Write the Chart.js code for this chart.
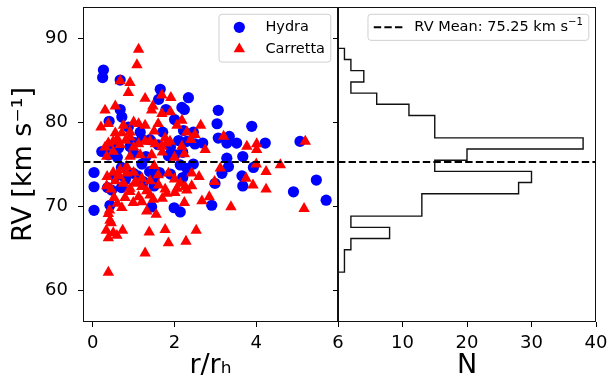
<!DOCTYPE html>
<html>
<head>
<meta charset="utf-8">
<script src="https://cdn.jsdelivr.net/npm/chart.js@4.4.0/dist/chart.umd.min.js"></script>
<style>
  html, body { margin: 0; padding: 0; background: #fff; }
  #wrap { position: relative; width: 610px; height: 390px; }
  #scatterChart { position: absolute; left: 0; top: 0; }
  #histChart { position: absolute; left: 320px; top: 0; }
</style>
</head>
<body>
<div id="wrap">
  <canvas id="scatterChart" width="352" height="390"></canvas>
  <canvas id="histChart" width="290" height="390"></canvas>
</div>
<script>
// Hydra members: r/r_h and radial velocity (km/s)
const hydraR = [0.26, 0.24, 0.67, 1.65, 1.61, 2.34, 1.79, 2.18, 2.24, 0.67, 0.71, 3.07, 3.04, 3.89, 0.87, 1.16, 1.71, 2.22, 2.46, 3.07,
  3.34, 3.52, 4.22, 5.07, 0.22, 0.38, 1.40, 2.30, 2.50, 2.69, 3.28, 3.28, 3.67, 1.85, 2.01, 0.91, 0.63,
  0.03, 0.03, 0.03, 0.42, 0.36, 0.99, 1.24, 1.39, 1.63, 1.44, 1.99, 2.14, 2.91, 2.14, 2.30, 2.46, 2.99, 3.16, 3.32,
  3.65, 3.67, 3.93, 4.91, 5.47, 5.71, 0.46,
  0.55, 0.80, 1.10, 1.50, 1.90, 2.20, 0.70, 1.20, 0.60, 1.00, 1.30, 2.20, 0.50, 1.00, 1.20, 1.60, 1.90, 2.10,
  0.70, 1.50, 0.40, 2.00];
const hydraRV = [86.2, 85.3, 85.0, 83.9, 82.7, 82.9, 81.5, 81.75, 81.5, 81.5, 80.6, 81.4, 79.8, 79.5, 79.4, 78.8, 78.8, 79.0, 78.8, 78.1,
  78.3, 77.5, 77.5, 77.7, 76.5, 76.1, 77.9, 77.7, 77.4, 77.5, 77.5, 75.7, 75.9, 76.0, 76.1, 77.1, 76.9,
  69.5, 72.3, 74.0, 70.1, 72.2, 73.9, 72.9, 74.1, 74.0, 69.9, 69.8, 69.3, 70.1, 74.9, 74.5, 75.0, 72.7, 73.9, 74.7,
  73.6, 72.4, 74.6, 71.7, 73.1, 70.7, 71.9,
  73.5, 73.2, 73.6, 73.3, 73.8, 73.4, 74.6, 75.0, 75.8, 76.3, 75.9, 76.4, 77.3, 77.6, 78.0, 77.3, 77.0, 77.8,
  72.2, 72.4, 80.1, 80.3];

// Carretta members
const carrettaR = [1.12, 1.08, 0.67, 0.91, 0.87, 1.28, 1.69, 1.91, 1.47, 1.44, 1.69, 0.55, 0.30, 0.20, 0.38, 0.75, 0.55, 0.71, 0.91, 1.12,
  1.28, 2.06, 2.18, 2.30, 2.64, 0.38, 0.50, 0.67, 0.91, 1.12, 1.28, 1.53, 1.77, 1.89, 1.69, 2.18, 2.24, 2.75, 3.20, 3.77,
  4.01, 4.01, 5.20, 0.34, 0.91, 1.16, 1.44,
  0.38, 1.28, 1.85, 2.28, 1.77, 2.53, 1.38, 0.73, 0.59, 0.38, 0.33, 0.42, 0.38, 0.41, 1.55, 1.32, 0.71, 0.99, 1.20, 1.48,
  0.52, 0.79, 0.91, 1.12, 1.40, 1.81, 2.01, 2.24, 2.67, 2.85, 3.38, 5.17, 0.34, 0.55, 0.75, 0.91, 1.08, 1.32, 1.61, 1.77,
  2.06, 2.26, 2.42, 0.50, 0.67, 0.83, 0.83, 1.04, 1.40, 1.85, 2.14, 2.42, 2.98, 3.12, 3.75, 3.92, 4.24, 4.24, 4.59, 4.00,
  0.50, 0.45, 0.60, 1.70, 0.45, 1.20, 2.30, 0.35, 0.65, 1.00, 1.20, 1.60, 2.00, 2.60, 1.50, 0.50, 1.70, 2.00, 0.30, 0.80,
  1.40, 1.80, 2.40, 0.60, 1.00, 1.50, 2.50, 1.00, 1.60, 1.90];
const carrettaRV = [88.65, 86.8, 84.9, 84.7, 83.5, 82.8, 83.2, 82.9, 81.9, 81.4, 81.0, 81.9, 81.4, 79.4, 79.8, 79.6, 78.7, 78.7, 78.8, 79.8,
  79.6, 79.6, 80.2, 78.8, 79.6, 77.5, 77.7, 77.3, 78.2, 77.4, 77.7, 77.4, 78.1, 77.7, 77.1, 77.1, 76.2, 76.7, 78.3, 77.1,
  77.4, 76.7, 77.7, 75.9, 75.9, 76.1, 76.1,
  62.1, 64.4, 65.6, 65.8, 67.2, 67.1, 66.9, 67.1, 66.5, 66.2, 67.1, 68.3, 69.1, 69.5, 69.0, 69.4, 69.8, 70.4, 70.5, 70.8,
  71.0, 71.0, 71.7, 71.1, 71.3, 71.5, 71.6, 70.4, 70.6, 71.1, 69.9, 69.7, 72.4, 73.0, 72.7, 72.1, 72.7, 71.8, 72.5, 72.0,
  72.1, 72.3, 72.4, 74.0, 74.3, 73.9, 74.7, 72.9, 73.0, 73.9, 72.7, 73.9, 72.9, 74.5, 73.3, 72.5, 72.0, 74.1, 74.9, 75.0,
  66.8, 68.0, 70.3, 70.9, 72.0, 72.3, 71.9, 73.5, 73.6, 74.0, 73.3, 73.7, 73.2, 73.5, 74.8, 76.5, 76.4, 75.8, 77.0, 77.8,
  77.7, 77.5, 77.9, 78.0, 77.0, 78.9, 78.5, 80.0, 79.8, 81.2];

// RV histogram (20 bins)
const binEdges = [62.14, 63.47, 64.80, 66.14, 67.47, 68.80, 70.13, 71.47, 72.80, 74.13, 75.46,
  76.79, 78.12, 79.46, 80.79, 82.12, 83.45, 84.78, 86.12, 87.45, 88.78];
const binCounts = [1, 1, 2, 8, 2, 13, 13, 28, 30, 15, 20, 38, 15, 15, 11, 6, 2, 4, 2, 1];

const meanRV = 75.25;
const seriesNames = ['Hydra', 'Carretta'];

const rTicks = [0, 2, 4, 6];
const rvTicks = [60, 70, 80, 90];
const nTicks = [10, 20, 30, 40];

Chart.defaults.font.family = "'DejaVu Sans', sans-serif";
Chart.defaults.color = '#000';

const toPoints = (xs, ys) => xs.map((x, i) => ({ x: x, y: ys[i] }));

// step outline of a horizontal histogram
const histOutline = [{ x: 0, y: binEdges[0] }];
binCounts.forEach((n, i) => {
    histOutline.push({ x: n, y: binEdges[i] }, { x: n, y: binEdges[i + 1] });
});
histOutline.push({ x: 0, y: binEdges[binEdges.length - 1] });

// box around the plot area
const frame = {
    id: 'frame',
    afterDraw(chart) {
        const { ctx, chartArea: a } = chart;
        ctx.save();
        ctx.strokeStyle = '#111';
        ctx.lineWidth = 1;
        ctx.strokeRect(Math.round(a.left) + 0.5, Math.round(a.top) + 0.5,
            Math.round(a.right - a.left) - 1, Math.round(a.bottom - a.top) - 1);
        ctx.restore();
    }
};

// dashed mean line
const meanLine = {
    id: 'meanLine',
    afterDatasetsDraw(chart, args, opts) {
        const { ctx, chartArea: a, scales } = chart;
        const y = scales.y.getPixelForValue(opts.value);
        ctx.save();
        ctx.strokeStyle = '#000';
        ctx.lineWidth = 2;
        ctx.setLineDash([7.4, 3.2]);
        ctx.beginPath();
        ctx.moveTo(a.left, y);
        ctx.lineTo(a.right, y);
        ctx.stroke();
        ctx.restore();
    }
};

// matplotlib-like legend box in the upper right
const boxLegend = {
    id: 'boxLegend',
    afterDraw(chart, args, opts) {
        const { ctx, chartArea: a } = chart;
        const em = opts.fontSize;
        ctx.save();
        ctx.font = em + "px 'DejaVu Sans'";
        const textW = Math.max(...opts.items.map(it => ctx.measureText(it.text).width + (it.sup ? ctx.measureText(it.sup).width * 0.7 : 0)));
        const w = em * 3.6 + textW;
        const h = em * 0.8 + opts.items.length * em + (opts.items.length - 1) * em * 0.5;
        const left = a.right - em * 0.5 - w;
        const top = a.top + em * 0.5;
        const r = 3;
        ctx.beginPath();
        ctx.moveTo(left + r, top);
        ctx.arcTo(left + w, top, left + w, top + h, r);
        ctx.arcTo(left + w, top + h, left, top + h, r);
        ctx.arcTo(left, top + h, left, top, r);
        ctx.arcTo(left, top, left + w, top, r);
        ctx.closePath();
        ctx.fillStyle = 'rgba(255,255,255,0.8)';
        ctx.fill();
        ctx.strokeStyle = '#d0d0d0';
        ctx.lineWidth = 1;
        ctx.stroke();

        opts.items.forEach((it, i) => {
            const cy = top + em * 0.4 + em / 2 + i * em * 1.5;
            const hx = left + em * 0.4;
            const mx = hx + em;
            ctx.fillStyle = it.color;
            ctx.strokeStyle = it.color;
            if (it.type === 'circle') {
                ctx.beginPath();
                ctx.arc(mx, cy, 5.6, 0, Math.PI * 2);
                ctx.fill();
            } else if (it.type === 'triangle') {
                const rr = 6.6;
                ctx.beginPath();
                ctx.moveTo(mx, cy - rr);
                ctx.lineTo(mx + rr * 0.866, cy + rr * 0.5);
                ctx.lineTo(mx - rr * 0.866, cy + rr * 0.5);
                ctx.closePath();
                ctx.fill();
            } else {
                ctx.lineWidth = 2;
                ctx.setLineDash([7.4, 3.2]);
                ctx.beginPath();
                ctx.moveTo(hx, cy);
                ctx.lineTo(hx + em * 2, cy);
                ctx.stroke();
                ctx.setLineDash([]);
            }
            ctx.fillStyle = '#000';
            ctx.textBaseline = 'middle';
            ctx.textAlign = 'left';
            const tx = left + em * 3.2;
            ctx.fillText(it.text, tx, cy);
            if (it.sup) {
                const tw = ctx.measureText(it.text).width;
                ctx.font = (em * 0.7) + "px 'DejaVu Sans'";
                ctx.fillText(it.sup, tx + tw, cy - em * 0.35);
                ctx.font = em + "px 'DejaVu Sans'";
            }
        });
        ctx.restore();
    }
};

const tickFont = { size: 18 };
const titleFont = { size: 27 };
const axisGrid = { display: true, drawOnChartArea: false, drawTicks: true, tickLength: 5, color: '#000', lineWidth: 1 };

// fixed axis boxes so both panels line up
const fitX = s => { s.height = 68; s.paddingLeft = 0; s.paddingRight = 0; };
const fitY = w => s => { s.width = w; s.paddingTop = 0; s.paddingBottom = 0; };

// Left panel: RV vs r/r_h
new Chart(document.getElementById('scatterChart'), {
    type: 'scatter',
    data: {
        datasets: [
            {
                label: seriesNames[0],
                data: toPoints(hydraR, hydraRV),
                pointStyle: 'circle',
                pointRadius: 5.6,
                backgroundColor: '#0000ff',
                borderWidth: 0,
                order: 2
            },
            {
                label: seriesNames[1],
                data: toPoints(carrettaR, carrettaRV),
                pointStyle: 'triangle',
                pointRadius: 6.6,
                backgroundColor: '#ff0000',
                borderWidth: 0,
                order: 1
            }
        ]
    },
    options: {
        responsive: false,
        animation: false,
        events: [],
        layout: { padding: { top: 7, right: 14, left: 0, bottom: 0 } },
        plugins: {
            legend: { display: false },
            tooltip: { enabled: false },
            meanLine: { value: meanRV },
            boxLegend: {
                fontSize: 14.5,
                items: [
                    { type: 'circle', color: '#0000ff', text: seriesNames[0] },
                    { type: 'triangle', color: '#ff0000', text: seriesNames[1] }
                ]
            }
        },
        scales: {
            x: {
                type: 'linear',
                min: -0.24,
                max: 6.0,
                afterBuildTicks: s => { s.ticks = rTicks.map(v => ({ value: v })); },
                afterFit: fitX,
                grid: axisGrid,
                border: { display: false },
                ticks: { font: tickFont, padding: 6, maxRotation: 0 },
                title: { display: true, text: 'r/rₕ', font: titleFont, padding: { top: 0, bottom: 8 } }
            },
            y: {
                type: 'linear',
                min: 56.2,
                max: 93.7,
                afterBuildTicks: s => { s.ticks = rvTicks.map(v => ({ value: v })); },
                afterFit: fitY(83),
                grid: axisGrid,
                border: { display: false },
                ticks: { font: tickFont, padding: 10 },
                title: { display: true, text: 'RV [km s⁻¹]', font: titleFont, padding: { top: 8, bottom: 0 } }
            }
        }
    },
    plugins: [meanLine, frame, boxLegend]
});

// Right panel: RV histogram
new Chart(document.getElementById('histChart'), {
    type: 'scatter',
    data: {
        datasets: [{
            label: 'N',
            data: histOutline,
            showLine: true,
            pointRadius: 0,
            borderColor: '#111',
            borderWidth: 1.4,
            tension: 0,
            fill: false
        }]
    },
    options: {
        responsive: false,
        animation: false,
        events: [],
        layout: { padding: { top: 7, right: 14, left: 0, bottom: 0 } },
        plugins: {
            legend: { display: false },
            tooltip: { enabled: false },
            meanLine: { value: meanRV },
            boxLegend: {
                fontSize: 14.5,
                items: [
                    { type: 'dash', color: '#000', text: 'RV Mean: ' + meanRV.toFixed(2) + ' km s', sup: '−1' }
                ]
            }
        },
        scales: {
            x: {
                type: 'linear',
                min: 0,
                max: 40,
                afterBuildTicks: s => { s.ticks = nTicks.map(v => ({ value: v })); },
                afterFit: fitX,
                grid: axisGrid,
                border: { display: false },
                ticks: { font: tickFont, padding: 6, maxRotation: 0 },
                title: { display: true, text: 'N', font: titleFont, padding: { top: 0, bottom: 8 } }
            },
            y: {
                type: 'linear',
                min: 56.2,
                max: 93.7,
                afterBuildTicks: s => { s.ticks = rvTicks.map(v => ({ value: v })); },
                afterFit: fitY(18),
                grid: axisGrid,
                border: { display: false },
                ticks: { display: false }
            }
        }
    },
    plugins: [meanLine, frame, boxLegend]
});
</script>
</body>
</html>
